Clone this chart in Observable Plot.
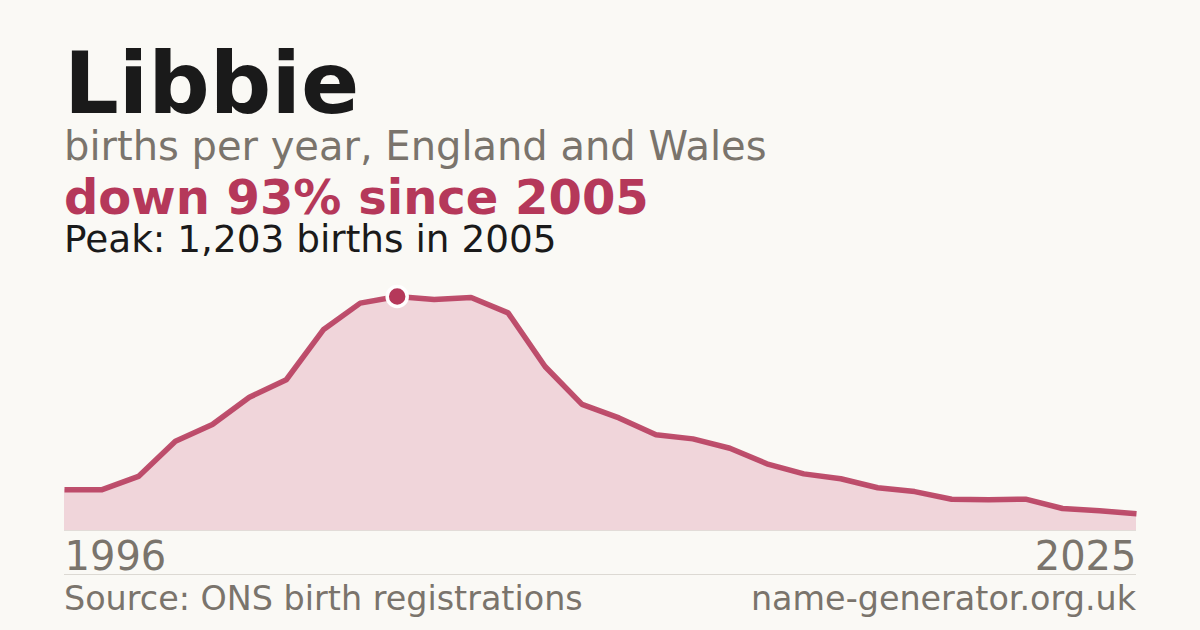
<!DOCTYPE html>
<html>
<head>
<meta charset="utf-8">
<script src="https://cdn.jsdelivr.net/npm/d3@7"></script>
<script src="https://cdn.jsdelivr.net/npm/@observablehq/plot@0.6"></script>
<style>
  html, body { margin: 0; padding: 0; background: #faf9f5; }
  body { width: 1200px; height: 630px; position: relative; overflow: hidden; font-family: "DejaVu Sans", sans-serif; }
  .t { position: absolute; left: 64px; white-space: nowrap; line-height: 0.9; }
  #title { top: 44.5px; font-size: 86px; font-weight: bold; color: #1a1a1a; }
  #sub { top: 127.7px; font-size: 40px; color: #7a746c; }
  #change { top: 176.3px; font-size: 48px; font-weight: bold; color: #b5385a; }
  #peak { top: 223.3px; font-size: 37.4px; color: #1a1a1a; }
  #chart { position: absolute; left: 0; top: 280px; }
  #rule { position: absolute; left: 64px; width: 1072px; top: 574px; height: 1px; background: #dcd9d3; }
  .foot { position: absolute; top: 583.5px; font-size: 33.4px; color: #7a746c; white-space: nowrap; line-height: 0.9; }
  #src { left: 64px; }
  #site { right: 64px; }
</style>
</head>
<body>
<div class="t" id="title"></div>
<div class="t" id="sub"></div>
<div class="t" id="change"></div>
<div class="t" id="peak"></div>
<div id="chart"></div>
<div id="rule"></div>
<div class="foot" id="src"></div>
<div class="foot" id="site"></div>
<script>
const years = [1996,1997,1998,1999,2000,2001,2002,2003,2004,2005,2006,2007,2008,2009,2010,
               2011,2012,2013,2014,2015,2016,2017,2018,2019,2020,2021,2022,2023,2024,2025];
const births = [209,209,278,459,545,685,775,1032,1169,1203,1188,1198,1119,843,648,
                579,492,471,423,343,291,266,220,200,161,158,161,113,101,86];
const tickYears = [1996, 2025];
const peakYear = 2005;
const peakValue = 1203;

const titleText = "Libbie";
const subtitleText = "births per year, England and Wales";
const changeText = "down 93% since 2005";
const peakText = "Peak: 1,203 births in 2005";
const sourceText = "Source: ONS birth registrations";
const siteText = "name-generator.org.uk";

document.getElementById("title").textContent = titleText;
document.getElementById("sub").textContent = subtitleText;
document.getElementById("change").textContent = changeText;
document.getElementById("peak").textContent = peakText;
document.getElementById("src").textContent = sourceText;
document.getElementById("site").textContent = siteText;

const data = years.map((y, i) => ({year: y, births: births[i]}));
const red = "#b5385a";

const chart = Plot.plot({
  width: 1200,
  height: 300,
  marginLeft: 64,
  marginRight: 64,
  marginTop: 16,
  marginBottom: 50,
  style: {background: "transparent", fontFamily: "DejaVu Sans, sans-serif", overflow: "visible"},
  x: {domain: [1996, 2025], axis: null},
  y: {domain: [0, peakValue], axis: null},
  marks: [
    Plot.areaY(data, {x: "year", y: "births", fill: "#f0d5da"}),
    Plot.ruleY([0], {stroke: "#e2dcd8", strokeWidth: 1}),
    Plot.lineY(data, {x: "year", y: "births", stroke: red, strokeWidth: 5.5, strokeOpacity: 0.88, strokeLinejoin: "miter", strokeLinecap: "butt"}),
    Plot.dot([{year: peakYear, births: peakValue}], {x: "year", y: "births", r: 10, fill: red, stroke: "white", strokeWidth: 3.5}),
    Plot.text([tickYears[0]], {x: d => d, y: () => 0, text: d => String(d), textAnchor: "start", dy: 26.5, fontSize: 40, fill: "#7a746c"}),
    Plot.text([tickYears[1]], {x: d => d, y: () => 0, text: d => String(d), textAnchor: "end", dy: 26.5, fontSize: 40, fill: "#7a746c"})
  ]
});
document.getElementById("chart").appendChild(chart);
</script>
</body>
</html>
